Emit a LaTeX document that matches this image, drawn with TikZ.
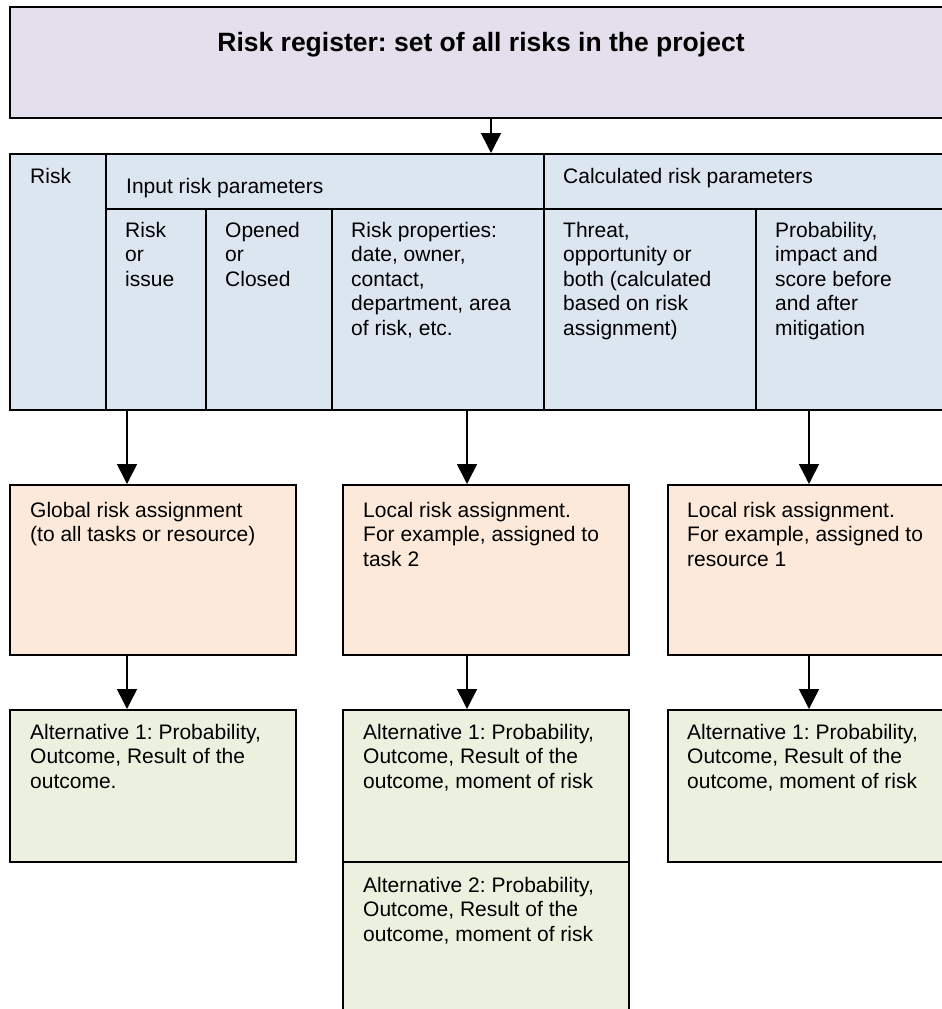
\documentclass[tikz,border=0pt]{standalone}
\usepackage{fontspec}
\setmainfont{Liberation Sans}
\usetikzlibrary{arrows.meta,calc}
\definecolor{lav}{HTML}{E4DFEC}
\definecolor{tblue}{HTML}{DCE6F1}
\definecolor{peach}{HTML}{FDE9D9}
\definecolor{sage}{HTML}{EBF1DE}
\frenchspacing
\begin{document}
\begin{tikzpicture}[x=1pt,y=-1pt,
  box/.style={draw=black, line width=1.6pt, inner sep=0pt, anchor=north west},
  txt/.style={inner sep=0pt, anchor=north west, align=left, font=\fontsize{21}{24.5}\selectfont},
  arr/.style={line width=1.6pt, -{Triangle[width=20pt,length=20pt]}}]
\clip (0,0) rectangle (942,1009);
\fill[white] (0,0) rectangle (942,1009);

% register box
\node[box, fill=lav, minimum width=944pt, minimum height=111pt] (reg) at (9,6) {};
\node[inner sep=0pt, anchor=base, font=\fontsize{26.5}{30}\selectfont\bfseries] (title) at (481,51) {Risk register: set of all risks in the project};

% table
\node[box, fill=tblue, minimum width=96pt, minimum height=256pt] (rcol) at (9,153) {};
\node[box, fill=tblue, minimum width=438pt, minimum height=55pt] (inp) at (105,153) {};
\node[box, fill=tblue, minimum width=410pt, minimum height=55pt] (calc) at (543,153) {};
\node[box, fill=tblue, minimum width=100pt, minimum height=201pt] (c1) at (105,208) {};
\node[box, fill=tblue, minimum width=126pt, minimum height=201pt] (c2) at (205,208) {};
\node[box, fill=tblue, minimum width=212pt, minimum height=201pt] (c3) at (331,208) {};
\node[box, fill=tblue, minimum width=212pt, minimum height=201pt] (c4) at (543,208) {};
\node[box, fill=tblue, minimum width=198pt, minimum height=201pt] (c5) at (755,208) {};

\node[txt] (trisk) at (30,166) {\strut Risk};
\node[txt] (tinp) at (126,176) {\strut Input risk parameters};
\node[txt] (tcalc) at (563,166) {\strut Calculated risk parameters};
\node[txt] (tc1) at (125,220) {\strut Risk\\or\\issue};
\node[txt] (tc2) at (225,220) {\strut Opened\\or\\Closed};
\node[txt] (tc3) at (351,220) {\strut Risk properties:\\date, owner,\\contact,\\department, area\\of risk, etc.};
\node[txt] (tc4) at (563,220) {\strut Threat,\\opportunity or\\both (calculated\\based on risk\\assignment)};
\node[txt] (tc5) at (775,220) {\strut Probability,\\impact and\\score before\\and after\\mitigation};

% assignment boxes
\node[box, fill=peach, minimum width=286pt, minimum height=170pt] (o1) at (9,484) {};
\node[box, fill=peach, minimum width=286pt, minimum height=170pt] (o2) at (342,484) {};
\node[box, fill=peach, minimum width=286pt, minimum height=170pt] (o3) at (667,484) {};
\node[txt] (to1) at (30,500) {\strut Global risk assignment\\(to all tasks or resource)};
\node[txt] (to2) at (363,500) {\strut Local risk assignment.\\For example, assigned to\\task 2};
\node[txt] (to3) at (687,500) {\strut Local risk assignment.\\For example, assigned to\\resource 1};

% alternative boxes
\node[box, fill=sage, minimum width=286pt, minimum height=152pt] (g1) at (9,709) {};
\node[box, fill=sage, minimum width=286pt, minimum height=152pt] (g2) at (342,709) {};
\node[box, fill=sage, minimum width=286pt, minimum height=152pt] (g3) at (667,709) {};
\node[box, fill=sage, minimum width=286pt, minimum height=160pt] (g4) at (342,861) {};
\node[txt] (tg1) at (30,722) {\strut Alternative 1: Probability,\\Outcome, Result of the\\outcome.};
\node[txt] (tg2) at (363,722) {\strut Alternative 1: Probability,\\Outcome, Result of the\\outcome, moment of risk};
\node[txt] (tg3) at (687,722) {\strut Alternative 1: Probability,\\Outcome, Result of the\\outcome, moment of risk};
\node[txt] (tg4) at (363,875) {\strut Alternative 2: Probability,\\Outcome, Result of the\\outcome, moment of risk};

% connectors
\coordinate (ax0) at (491,0);
\coordinate (ax1) at (127,0);
\coordinate (ax2) at (467,0);
\coordinate (ax3) at (809,0);
\draw[arr] (ax0 |- reg.south) -- (ax0 |- inp.north);
\draw[arr] (ax1 |- c1.south) -- (ax1 |- o1.north);
\draw[arr] (ax2 |- c3.south) -- (ax2 |- o2.north);
\draw[arr] (ax3 |- c5.south) -- (ax3 |- o3.north);
\draw[arr] (ax1 |- o1.south) -- (ax1 |- g1.north);
\draw[arr] (ax2 |- o2.south) -- (ax2 |- g2.north);
\draw[arr] (ax3 |- o3.south) -- (ax3 |- g3.north);
\end{tikzpicture}
\end{document}
